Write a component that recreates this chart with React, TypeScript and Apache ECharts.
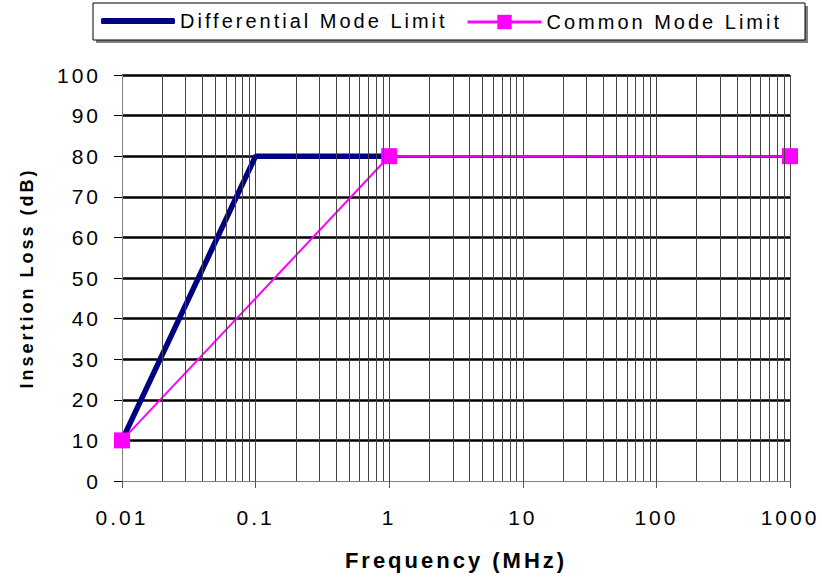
import React, { useEffect, useRef } from "react";
import * as echarts from "echarts";

const diffX = [0.01, 0.1, 1];
const diffY = [10, 80, 80];
const commonX = [0.01, 1, 1000];
const commonY = [10, 80, 80];
const xTickValues = [0.01, 0.1, 1, 10, 100, 1000];
const xTickLabels = ["0.01", "0.1", "1", "10", "100", "1000"];
const minorMultipliers = [2, 3, 4, 5, 6, 7, 8, 9];
const seriesNames = ["Differential Mode Limit", "Common Mode Limit"];

export default function App() {
  const ref = useRef<HTMLDivElement>(null);
  useEffect(() => {
    document.body.style.margin = "0";
    if (!ref.current) return;
    const chart = echarts.init(ref.current, undefined, { renderer: "svg" });
    const minorLines: { xAxis: number }[] = [];
    xTickValues.slice(0, -1).forEach((d) => {
      minorMultipliers.forEach((m) => minorLines.push({ xAxis: Number((d * m).toPrecision(6)) }));
    });
    const font = "Liberation Sans, Arial, sans-serif";
    chart.setOption({
      animation: false,
      textStyle: { fontFamily: font },
      grid: { left: 122, right: 32, top: 75, bottom: 96 },
      graphic: [
        { type: "rect", shape: { x: 96, y: 6, width: 712, height: 37 }, style: { fill: "#808080" }, z: 0 },
        { type: "rect", shape: { x: 93, y: 3, width: 712, height: 37 }, style: { fill: "#fff", stroke: "#000", lineWidth: 1 }, z: 1 },
      ],
      legend: [
        {
          data: [{ name: seriesNames[0], icon: "roundRect" }], left: 101, top: 11, itemWidth: 74, itemHeight: 6, itemGap: 0,
          itemStyle: { color: "#000080" },
          textStyle: { fontSize: 20, color: "#000", fontFamily: font }, z: 5, padding: 0,
        },
        {
          data: [seriesNames[1]], left: 466, top: 12, itemWidth: 74, itemHeight: 18, itemGap: 0,
          lineStyle: { width: 3 },
          textStyle: { fontSize: 20, color: "#000", fontFamily: font }, z: 5, padding: 0,
        },
      ],
      xAxis: {
        type: "log", logBase: 10, min: 0.01, max: 1000,
        name: "Frequency (MHz)", nameLocation: "middle", nameGap: 68,
        nameTextStyle: { fontSize: 22, fontWeight: "bold", color: "#000", fontFamily: font },
        axisLine: { show: true, lineStyle: { color: "#808080", width: 1 } },
        axisTick: { show: true, length: 7, lineStyle: { color: "#555" } },
        axisLabel: {
          fontSize: 21, color: "#000", margin: 26,
          formatter: (v: number) => {
            let best = 0;
            xTickValues.forEach((t, i) => {
              if (Math.abs(Math.log10(t) - Math.log10(v)) < Math.abs(Math.log10(xTickValues[best]) - Math.log10(v))) best = i;
            });
            return xTickLabels[best];
          },
        },
        splitLine: { show: true, lineStyle: { color: "#444", width: 1 } },
        minorTick: { show: false },
      },
      yAxis: {
        type: "value", min: 0, max: 100, interval: 10,
        name: "Insertion Loss (dB)", nameLocation: "middle", nameGap: 86,
        nameTextStyle: { fontSize: 18, fontWeight: "bold", color: "#000", fontFamily: font },
        axisLine: { show: true, lineStyle: { color: "#808080", width: 1 } },
        axisTick: { show: true, length: 8, lineStyle: { color: "#000" } },
        axisLabel: { fontSize: 21, color: "#000", margin: 21 },
        splitLine: { show: true, showMinLine: false, lineStyle: { color: "#000", width: 2.5 } },
      },
      series: [
        {
          type: "line", name: "_grid", data: [], silent: true, z: 1,
          markLine: {
            silent: true, symbol: "none", label: { show: false },
            lineStyle: { color: "#444", width: 1, type: "solid" },
            data: minorLines,
          },
        },
        {
          type: "line", name: seriesNames[0], z: 3,
          data: diffX.map((x, i) => [x, diffY[i]]),
          symbol: "none",
          lineStyle: { color: "#000080", width: 5.5 },
          itemStyle: { color: "#000080" },
        },
        {
          type: "line", name: seriesNames[1], z: 4,
          data: commonX.map((x, i) => [x, commonY[i]]),
          symbol: "rect", symbolSize: 16,
          lineStyle: { color: "#ff00ff", width: 2 },
          itemStyle: { color: "#ff00ff" },
        },
      ],
    });
    return () => chart.dispose();
  }, []);
  return (
    <>
      <style>{"svg text { letter-spacing: 3px; }"}</style>
      <div ref={ref} style={{ width: 822, height: 577 }} />
    </>
  );
}
